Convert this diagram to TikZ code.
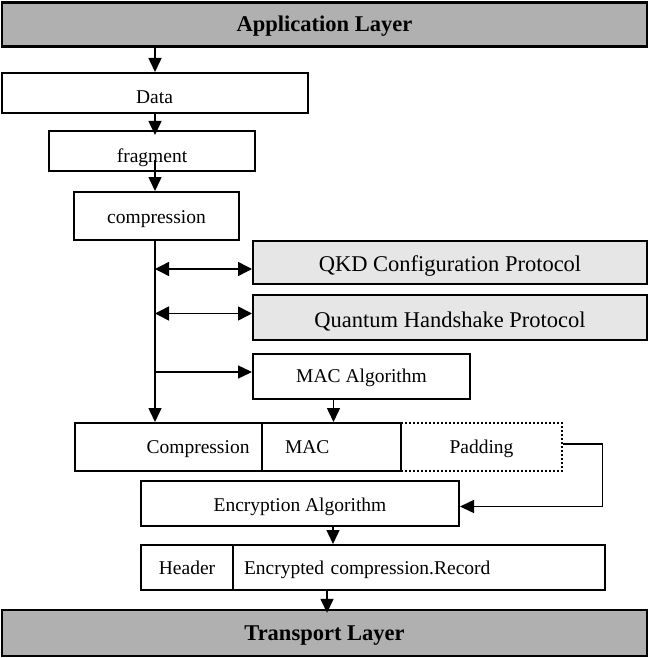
\documentclass[tikz,border=0pt]{standalone}
\usepackage{fontspec}
\setmainfont{Liberation Serif}
\usepackage{tikz}
\usetikzlibrary{positioning,arrows.meta,calc}
\definecolor{layergray}{RGB}{176,176,176}
\definecolor{protogray}{RGB}{230,230,230}
\newcommand{\smallfs}{\fontsize{19.5}{22}\selectfont}
\newcommand{\bigfs}{\fontsize{22.5}{25}\selectfont}
\tikzset{
  box/.style={draw,line width=2pt,inner sep=0pt,align=center,font=\smallfs,text height=13pt,text depth=0pt},
  layer/.style={box,line width=2.4pt,fill=layergray,font=\bigfs\bfseries,text height=15pt},
  proto/.style={box,fill=protogray,font=\bigfs,text height=19pt},
  padbox/.style={box,dotted,line width=1.3pt},
  lower/.style={text height=#1},
  flow/.style={-{Triangle[length=14pt,width=13pt]},line width=1.5pt},
  dflow/.style={{Triangle[length=14pt,width=14pt]}-{Triangle[length=14pt,width=14pt]},line width=1.5pt},
}
\begin{document}
\begin{tikzpicture}[x=1pt,y=-1pt]
  \useasboundingbox (0,0) rectangle (649,658);
  \coordinate (bus) at (155,0);
  \coordinate (dn) at (327,0);
  % layers
  \node[layer,minimum width=645pt,minimum height=44pt] (app) at (324.5,24.5) {Application Layer};
  \node[layer,minimum width=645pt,minimum height=46pt] (trans) at (324.5,633) {Transport Layer};
  % left column
  \node[box,lower=21pt,minimum width=306pt,minimum height=40pt] (data) at (154.5,93) {Data};
  \node[box,lower=22pt,minimum width=206pt,minimum height=40pt] (frag) at (152,151) {fragment};
  \node[box,lower=15pt,minimum width=165pt,minimum height=48pt] (comp) at (156.5,216) {compression};
  % protocols
  \node[proto,minimum width=394pt,minimum height=43pt] (qkd) at (450,262) {QKD Configuration Protocol};
  \node[proto,minimum width=394pt,minimum height=45pt] (qhp) at (450,317.5) {Quantum Handshake Protocol};
  \node[box,minimum width=217pt,minimum height=45pt] (macalg) at (361.5,376) {MAC Algorithm};
  % record
  \node[box,minimum width=187pt,minimum height=48pt,inner xsep=12pt,text width=163pt,align=right] (rcomp) at (168,447) {Compression};
  \node[box,minimum width=139pt,minimum height=48pt,inner xsep=23pt,text width=93pt,align=left] (rmac) at (331.5,447) {MAC};
  \node[padbox,minimum width=161pt,minimum height=48pt] (pad) at (481.5,447) {Padding};
  \node[box,lower=15pt,minimum width=318pt,minimum height=45pt] (enc) at (300,503.5) {Encryption Algorithm};
  \node[box,minimum width=92pt,minimum height=45pt] (hdr) at (187,567.5) {Header};
  \node[box,minimum width=372pt,minimum height=45pt,inner xsep=11pt,text width=350pt,align=left] (rec) at (419,567.5) {Encrypted compression.Record};
  % connectors
  \draw[flow] (app.south -| bus) -- (data.north -| bus);
  \draw[flow] (data.south -| bus) -- ([yshift=-5pt]frag.north -| bus);
  \draw[flow] ([yshift=12pt]frag.south -| bus) -- (comp.north -| bus);
  \draw[flow] (comp.south -| bus) -- (rcomp.north -| bus);
  \draw[dflow] ([yshift=-7pt]qkd.west -| bus) -- ([yshift=-7pt]qkd.west);
  \draw[dflow] ([yshift=4pt]qhp.west -| bus) -- ([yshift=4pt]qhp.west);
  \draw[flow] ([yshift=4pt]macalg.west -| bus) -- ([yshift=4pt]macalg.west);
  \draw[flow] ([xshift=-28pt]macalg.south) -- ([xshift=-28pt]macalg.south |- rmac.north);
  \draw[flow] ([yshift=3pt]pad.east) -- ++(40,0) |- ([yshift=-3pt]enc.east);
  \draw[flow] ([xshift=33pt]enc.south) -- ([xshift=33pt]enc.south |- rec.north);
  \draw[flow] ([yshift=2pt]rec.south -| dn) -- ([yshift=-4pt]trans.north -| dn);
\end{tikzpicture}
\end{document}
